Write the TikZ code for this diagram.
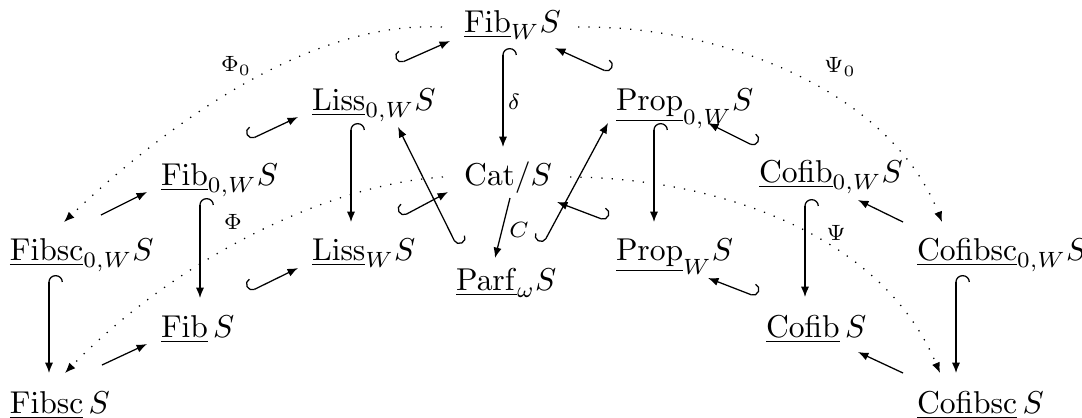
\documentclass[tikz,border=0pt]{standalone}
\usetikzlibrary{arrows.meta}
\begin{document}
\begin{tikzpicture}[x=0.3165pt,y=-0.3165pt,
  obj/.style={anchor=base west,inner sep=0pt,outer sep=0pt},
  lbl/.style={inner sep=0pt,outer sep=0pt},
  tipend/.tip={Latex[length=3.3pt,width=2.6pt]},
  hkL/.tip={Hooks[right,width=8.8pt,length=2.2pt]},
  hkR/.tip={Hooks[left,width=8.8pt,length=2.2pt]},
  hkdL/.tip={Hooks[right,width=7.6pt,length=1.9pt]},
  hkdR/.tip={Hooks[left,width=7.6pt,length=1.9pt]},
  arr/.style={arrows={-tipend},line width=0.4pt},
  hookL/.style={arrows={hkL-tipend},line width=0.4pt},
  hookR/.style={arrows={hkR-tipend},line width=0.4pt},
  dhookL/.style={arrows={hkdL-tipend},line width=0.4pt},
  dhookR/.style={arrows={hkdR-tipend},line width=0.4pt},
  dots/.style={arrows={-tipend},line width=0.4pt,dash pattern=on 0.4pt off 2.9pt}]
\useasboundingbox (0,0) rectangle (1082,417);
% objects
\node[obj] (fibW) at (464,32) {$\underline{\mathrm{Fib}}_W S$};
\node[obj] (liss0W) at (312,110) {$\underline{\mathrm{Liss}}_{0,W} S$};
\node[obj] (prop0W) at (616,110) {$\underline{\mathrm{Prop}}_{0,W} S$};
\node[obj] (fib0W) at (161,185) {$\underline{\mathrm{Fib}}_{0,W} S$};
\node[obj] (cat) at (464,185) {$\mathrm{Cat}/S$};
\node[obj] (cofib0W) at (759,182) {$\underline{\mathrm{Cofib}}_{0,W} S$};
\node[obj] (fibsc0W) at (10,260) {$\underline{\mathrm{Fibsc}}_{0,W} S$};
\node[obj] (lissW) at (312,260) {$\underline{\mathrm{Liss}}_W S$};
\node[obj] (propW) at (616,260) {$\underline{\mathrm{Prop}}_W S$};
\node[obj] (cofibsc0W) at (917,260) {$\underline{\mathrm{Cofibsc}}_{0,W} S$};
\node[obj] (parf) at (456,290) {$\underline{\mathrm{Parf}}_\omega S$};
\node[obj] (fib) at (161,337) {$\underline{\mathrm{Fib}}\,S$};
\node[obj] (cofib) at (766,337) {$\underline{\mathrm{Cofib}}\,S$};
\node[obj] (fibsc) at (10,413) {$\underline{\mathrm{Fibsc}}\,S$};
\node[obj] (cofibsc) at (917,413) {$\underline{\mathrm{Cofibsc}}\,S$};
% labels
\node[lbl] (lphi0) at (236,66) {$\scriptstyle\Phi_0$};
\node[lbl] (lpsi0) at (840,67) {$\scriptstyle\Psi_0$};
\node[lbl] (lphi) at (233,222) {$\scriptstyle\Phi$};
\node[lbl] (lpsi) at (836,233) {$\scriptstyle\Psi$};
\node[lbl] (ldelta) at (514,102) {$\scriptstyle\delta$};
\node[lbl] (lC) at (519,230) {$\scriptstyle C$};
% diagonal hooked arrows, hook on the left of travel
\draw[dhookL] ([shift={(88,-45)}]fib0W.base west) -- ([shift={(-14,7)}]liss0W.base west);
\draw[dhookL] ([shift={(86,-46)}]liss0W.base west) -- ([shift={(-14,9)}]fibW.base west);
\draw[dhookL] ([shift={(88,-45)}]fib.base west) -- ([shift={(-14,8)}]lissW.base west);
\draw[dhookL] ([shift={(89,-43)}]lissW.base west) -- ([shift={(-16,7)}]cat.base west);
\draw[dhookL] ([shift={(87,-46)}]parf.base west) -- ([shift={(-8,13)}]prop0W.base west);
% diagonal hooked arrows, hook on the right of travel
\draw[dhookR] ([shift={(-3,-35)}]cofib0W.base west) -- ([shift={(92,13)}]prop0W.base west);
\draw[dhookR] ([shift={(-6,-37)}]prop0W.base west) -- ([shift={(91,16)}]fibW.base west);
\draw[dhookR] ([shift={(1,-44)}]parf.base west) -- ([shift={(86,17)}]liss0W.base west);
\draw[dhookR] ([shift={(-9,-39)}]propW.base west) -- ([shift={(93,17)}]cat.base west);
\draw[dhookR] ([shift={(-9,-40)}]cofib.base west) -- ([shift={(92,18)}]propW.base west);
% vertical hooked arrows
\draw[hookL] ([shift={(39,13)}]fib0W.base west) -- ([shift={(39,-39)}]fib.base west);
\draw[hookL] ([shift={(39,15)}]fibsc0W.base west) -- ([shift={(39,-40)}]fibsc.base west);
\draw[hookL] ([shift={(39,13)}]liss0W.base west) -- ([shift={(39,-38)}]lissW.base west);
\draw[hookL] ([shift={(39,16)}]fibW.base west) -- ([shift={(39,-38)}]cat.base west);
\draw[hookL] ([shift={(38,13)}]prop0W.base west) -- ([shift={(38,-38)}]propW.base west);
\draw[hookL] ([shift={(46,17)}]cofib0W.base west) -- ([shift={(39,-40)}]cofib.base west);
\draw[hookL] ([shift={(39,15)}]cofibsc0W.base west) -- ([shift={(39,-40)}]cofibsc.base west);
% plain arrows
\draw[arr] ([shift={(91,-45)}]fibsc0W.base west) -- ([shift={(-14,7)}]fib0W.base west);
\draw[arr] ([shift={(92,-48)}]fibsc.base west) -- ([shift={(-14,7)}]fib.base west);
\draw[arr] ([shift={(46,13)}]cat.base west) -- ([shift={(39,-32)}]parf.base west);
\draw[arr] ([shift={(-14,-38)}]cofibsc0W.base west) -- ([shift={(99,18)}]cofib0W.base west);
\draw[arr] ([shift={(-14,-40)}]cofibsc.base west) -- ([shift={(92,15)}]cofib.base west);
% dotted curves
\draw[dots] ([shift={(-22,-5)}]fibW.base west) .. controls +(-142,-7) and +(86,-82) .. ([shift={(54,-38)}]fibsc0W.base west);
\draw[dots] ([shift={(114,-5)}]fibW.base west) .. controls +(142,-2) and +(-52,-132) .. ([shift={(25,-38)}]cofibsc0W.base west);
\draw[dots] ([shift={(-21,-8)}]cat.base west) .. controls +(-123,8) and +(105,-108) .. ([shift={(55,-40)}]fibsc.base west);
\draw[dots] ([shift={(106,-8)}]cat.base west) .. controls +(140,1) and +(-60,-143) .. ([shift={(23,-40)}]cofibsc.base west);
\end{tikzpicture}
\end{document}
